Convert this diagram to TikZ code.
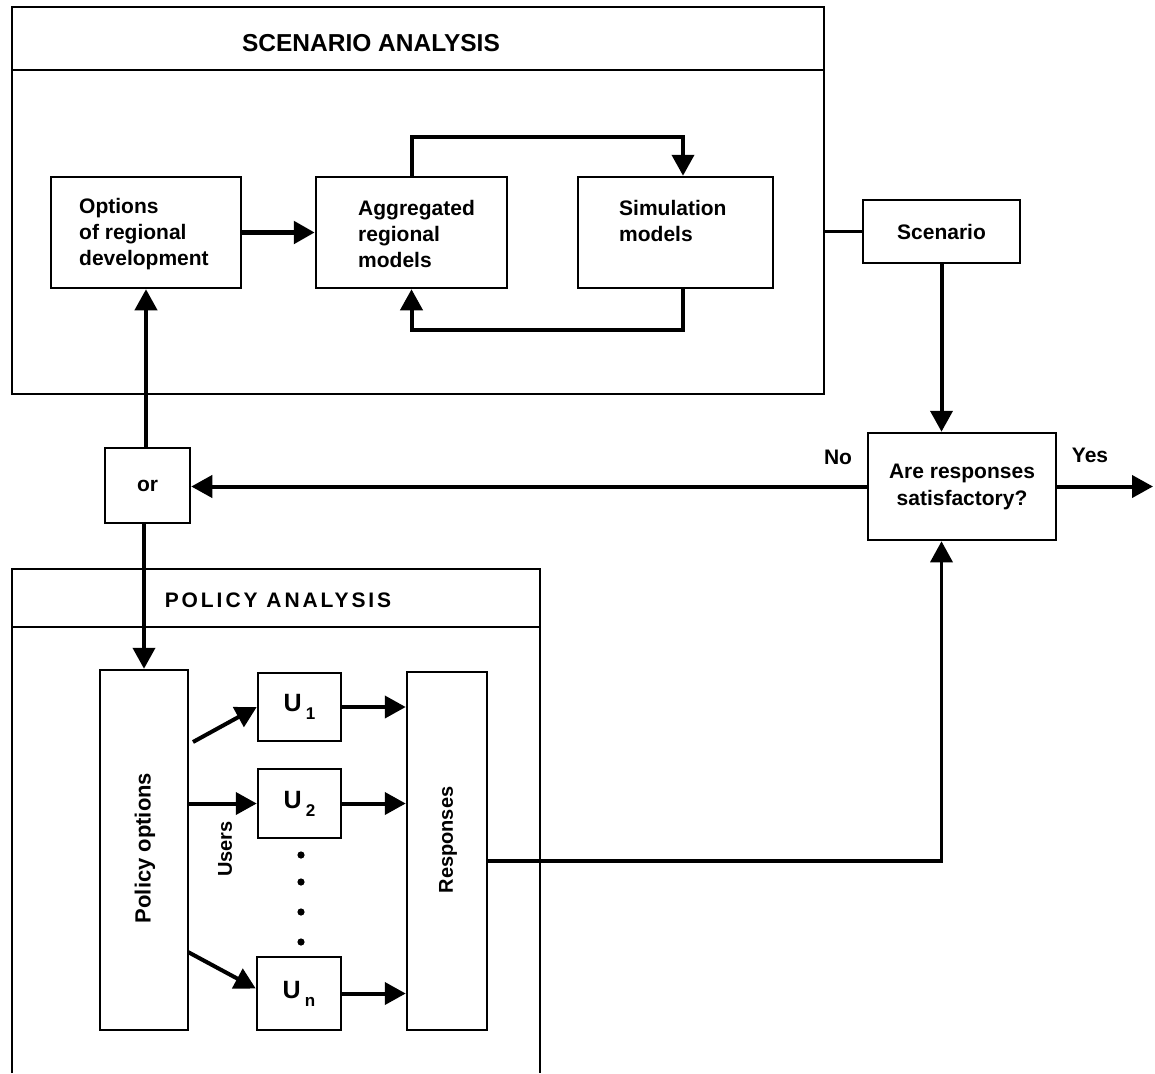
\documentclass[tikz,border=0pt]{standalone}
\usepackage{fontspec}
\setmainfont{Liberation Sans}
\usetikzlibrary{arrows.meta,calc}
\newcommand{\usub}[1]{U\,\raisebox{-8pt}{\fontsize{17}{17}\selectfont #1}}
\tikzset{
  box/.style={draw, line width=2.5pt, rectangle, inner sep=0pt},
  frame/.style={line width=2.5pt},
  conn/.style={line width=4pt, -{Triangle[length=21pt,width=22pt]}},
  plain/.style={line width=3.5pt},
  txt/.style={font=\fontsize{21}{26}\selectfont\bfseries, inner sep=0pt},
  utxt/.style={font=\fontsize{25}{25}\selectfont\bfseries},
  title/.style={font=\fontsize{24.5}{26}\selectfont\bfseries, inner sep=0pt},
}
\begin{document}
\begin{tikzpicture}[x=1pt,y=-1pt]
\useasboundingbox (0,0) rectangle (1155,1073);

% ---------- scenario analysis frame ----------
\node[box, minimum width=812, minimum height=387] (scenbox) at (418,200.5) {};
\draw[frame] ([yshift=-64pt]scenbox.north west) -- ([yshift=-64pt]scenbox.north east);
\node[title] (scentitle) at (371,43) {SCENARIO ANALYSIS};

\node[box, minimum width=190, minimum height=111] (opt) at (146,232.5) {};
\node[txt, anchor=west, align=left] (optT) at (79,234) {Options\\of regional\\development};
\node[box, minimum width=191, minimum height=111] (agg) at (411.5,232.5) {};
\node[txt, anchor=west, align=left] (aggT) at (358,234) {Aggregated\\regional\\models};
\node[box, minimum width=195, minimum height=111] (sim) at (675.5,232.5) {};
\node[txt, anchor=west, align=left] (simT) at (619,221) {Simulation\\models};

\coordinate (xR) at (683,0);
\coordinate (yT) at (0,137);
\coordinate (yB) at (0,330);
\draw[conn, line width=5.5pt] (opt.east) -- (agg.west);
\draw[conn] (agg.north) |- (yT -| xR) -- (sim.north -| xR);
\draw[conn] (sim.south -| xR) |- (yB -| agg.south) -- (agg.south);

% ---------- scenario and decision ----------
\node[box, minimum width=157, minimum height=63, txt] (scen) at (941.5,231.5) {Scenario};
\draw[plain] (scenbox.east |- scen.west) -- (scen.west);

\node[box, minimum width=188, minimum height=107, txt, align=center,
      font=\fontsize{21}{27}\selectfont\bfseries] (dec) at (962,486.5) {Are responses\\satisfactory?};
\draw[conn] (scen.south) -- (scen.south |- dec.north);
\coordinate (yesend) at (1153,486.5);
\draw[conn] (dec.east) -- (yesend);
\node[txt] (no) at (838,457) {No};
\node[txt] (yes) at (1090,455) {Yes};

\node[box, minimum width=85, minimum height=75, txt] (orb) at (147.5,485.5) {or};
\draw[conn] (dec.west) -- (dec.west -| orb.east);
\draw[conn] (orb.north -| opt.south) -- (opt.south);

% ---------- policy analysis frame ----------
\draw[frame] (12,1073) |- (540,569) -- (540,1073);
\draw[frame] (12,627) -- (540,627);
\node[title, font=\fontsize{21}{24}\selectfont\bfseries\addfontfeature{LetterSpace=14}] (poltitle) at (278,600) {POLICY ANALYSIS};

\node[box, minimum width=88, minimum height=360] (pol) at (144,850) {};
\node[txt, rotate=90, font=\fontsize{22}{26}\selectfont\bfseries] (polT) at (145,848) {Policy options};
\draw[conn] (orb.south -| pol.north) -- (pol.north);

\node[box, minimum width=83, minimum height=68, utxt] (u1) at (299.5,707) {\usub{1}};
\node[box, minimum width=83, minimum height=69, utxt] (u2) at (299.5,803.5) {\usub{2}};
\node[box, minimum width=84, minimum height=73, utxt] (un) at (299,993.5) {\usub{n}};

\node[box, minimum width=80, minimum height=358] (resp) at (447,851) {};
\node[txt, rotate=90, font=\fontsize{20}{24}\selectfont\bfseries] (respT) at (448,840) {Responses};
\node[txt, rotate=90, font=\fontsize{20}{24}\selectfont\bfseries] (users) at (225,849) {Users};

\coordinate (p1) at (193,742);
\coordinate (pn) at (188,952);
\draw[conn] (p1) -- (u1.west);
\draw[conn] (pol.east |- u2.west) -- (u2.west);
\draw[conn] (pn) -- ([yshift=5pt]un.west);

\draw[conn] (u1.east) -- (u1.east -| resp.west);
\draw[conn] (u2.east) -- (u2.east -| resp.west);
\draw[conn] (un.east) -- (un.east -| resp.west);

\foreach \yy [count=\i] in {855,882,912,942}
  \fill (301,\yy) circle (3.6pt) coordinate (dot\i);

% ---------- responses back to the decision ----------
\coordinate (yR) at (0,861);
\draw[conn, line width=3.5pt] (resp.east |- yR) -| (scen.south |- dec.south);
\end{tikzpicture}
\end{document}
